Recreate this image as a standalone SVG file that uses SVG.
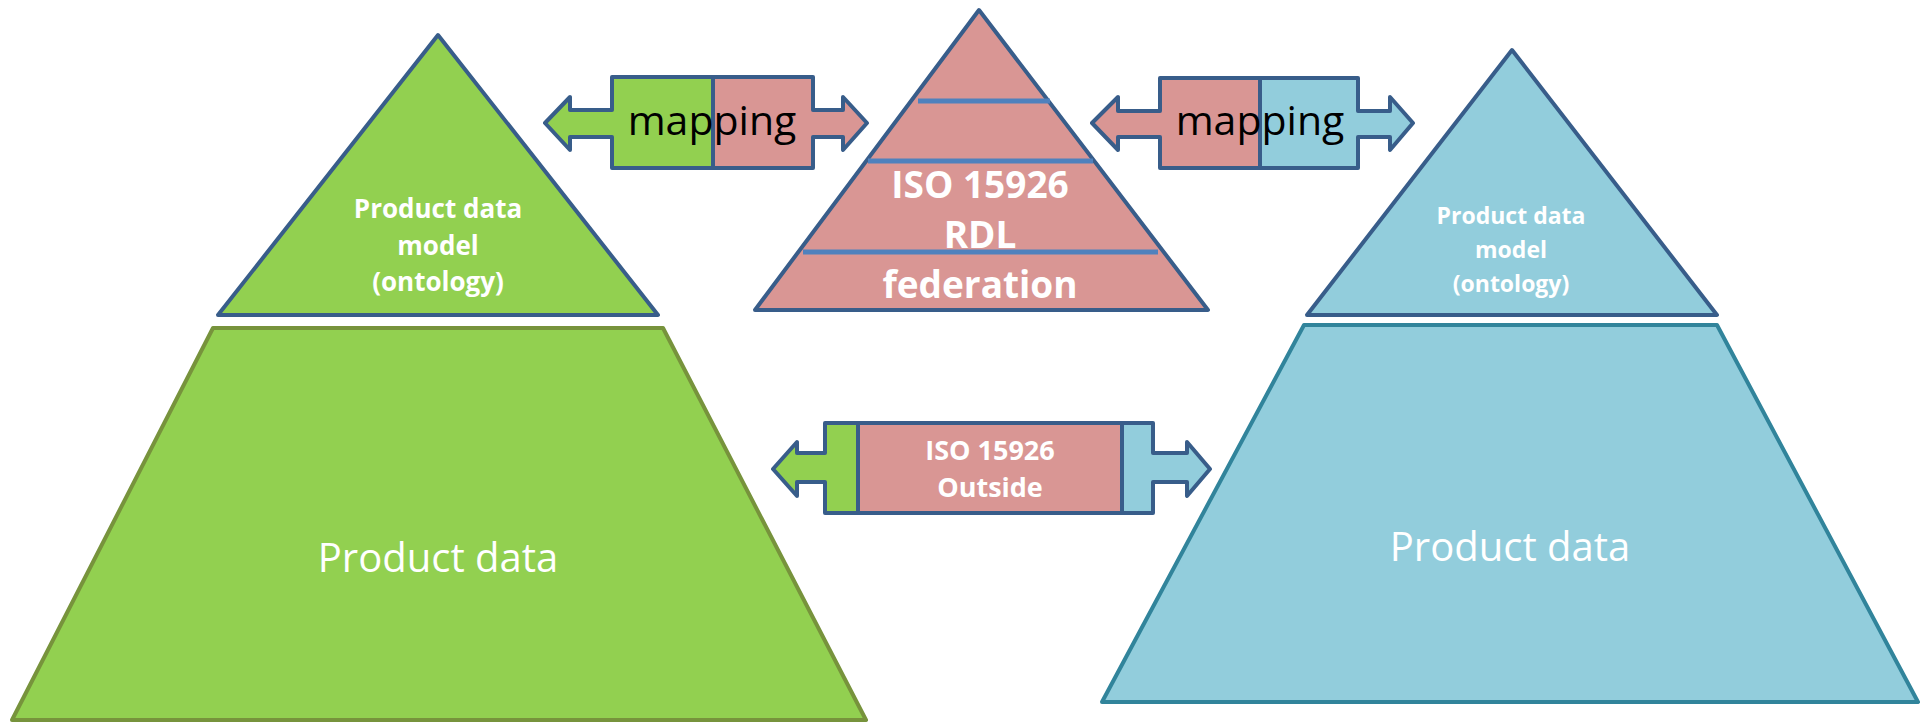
<svg xmlns="http://www.w3.org/2000/svg" width="1920" height="724" viewBox="0 0 1920 724">
<style>
.edge{stroke:#385d8a;stroke-width:4;stroke-linejoin:round;fill:none}
.tri{stroke:#385d8a;stroke-width:4;stroke-linejoin:round}
.band{stroke:#4f81bd;stroke-width:5}
.w{fill:#ffffff;font-family:"Open Sans","Liberation Sans",sans-serif;text-anchor:middle}
.b{font-weight:bold}
.map{fill:#000000;font-family:"Open Sans","Liberation Sans",sans-serif;font-size:41px;text-anchor:middle}
.green{fill:#92d050}.pink{fill:#d99694}.blue{fill:#92cddc}
</style>
<defs>
<polygon id="arrL" points="545,123 570,97 570,110 612,110 612,77 813,77 813,110 843,110 843,97 867,123 843,150 843,137 813,137 813,168 612,168 612,137 570,137 570,150"/>
<polygon id="arrR" points="1092,123 1118,97 1118,111 1160,111 1160,78 1358,78 1358,111 1390,111 1390,97 1413,123 1390,150 1390,137 1358,137 1358,168 1160,168 1160,137 1118,137 1118,150"/>
<polygon id="arrB" points="773,469 797,442 797,453 825,453 825,423 1153,423 1153,453 1187,453 1187,442 1210,469 1187,496 1187,482 1153,482 1153,513 825,513 825,482 797,482 797,496"/>
<clipPath id="cL"><use href="#arrL"/></clipPath>
<clipPath id="cR"><use href="#arrR"/></clipPath>
<clipPath id="cB"><use href="#arrB"/></clipPath>
</defs>

<g id="left-product-data">
<polygon points="213,328 663,328 866,720 12,720" class="green" stroke="#77933c" stroke-width="4" stroke-linejoin="round"/>
<text class="w" x="438" y="572" font-size="40">Product data</text>
</g>
<g id="left-model">
<polygon class="tri green" points="438,35 658,315 218,315"/>
<text class="w b" x="438" y="218" font-size="26">Product data</text>
<text class="w b" x="438" y="255" font-size="26">model</text>
<text class="w b" x="438" y="291" font-size="26">(ontology)</text>
</g>

<g id="right-product-data">
<polygon points="1304,325 1717,325 1918,702 1102,702" class="blue" stroke="#31849b" stroke-width="4" stroke-linejoin="round"/>
<text class="w" x="1510" y="561" font-size="40">Product data</text>
</g>
<g id="right-model">
<polygon class="tri blue" points="1512,50 1717,315 1307,315"/>
<text class="w b" x="1511" y="224" font-size="23">Product data</text>
<text class="w b" x="1511" y="258" font-size="23">model</text>
<text class="w b" x="1511" y="292" font-size="23">(ontology)</text>
</g>

<g id="rdl-federation">
<polygon class="tri pink" points="979,10 1208,310 755,310"/>
<line class="band" x1="918" y1="101" x2="1050" y2="101"/>
<line class="band" x1="868" y1="161" x2="1093" y2="161"/>
<line class="band" x1="803" y1="252" x2="1158" y2="252"/>
<text class="w b" x="980" y="198" font-size="37">ISO 15926</text>
<text class="w b" x="980" y="248" font-size="37">RDL</text>
<text class="w b" x="980" y="298" font-size="37">federation</text>
</g>

<g id="connectors">
<g id="mapping-left">
<g clip-path="url(#cL)">
<rect class="green" x="540" y="70" width="173" height="105"/>
<rect class="pink" x="713" y="70" width="160" height="105"/>
</g>
<use href="#arrL" class="edge"/>
<line class="edge" x1="713" y1="77" x2="713" y2="168"/>
<text class="map" x="712" y="135">mapping</text>
</g>
<g id="mapping-right">
<g clip-path="url(#cR)">
<rect class="pink" x="1085" y="70" width="175" height="105"/>
<rect class="blue" x="1260" y="70" width="160" height="105"/>
</g>
<use href="#arrR" class="edge"/>
<line class="edge" x1="1260" y1="78" x2="1260" y2="168"/>
<text class="map" x="1260" y="135">mapping</text>
</g>
<g id="iso-outside">
<g clip-path="url(#cB)">
<rect class="green" x="765" y="415" width="93" height="105"/>
<rect class="pink" x="858" y="415" width="264" height="105"/>
<rect class="blue" x="1122" y="415" width="95" height="105"/>
</g>
<use href="#arrB" class="edge"/>
<line class="edge" x1="858" y1="423" x2="858" y2="513"/>
<line class="edge" x1="1122" y1="423" x2="1122" y2="513"/>
<text class="w b" x="990" y="460" font-size="27">ISO 15926</text>
<text class="w b" x="990" y="497" font-size="27">Outside</text>
</g>
</g>
</svg>
